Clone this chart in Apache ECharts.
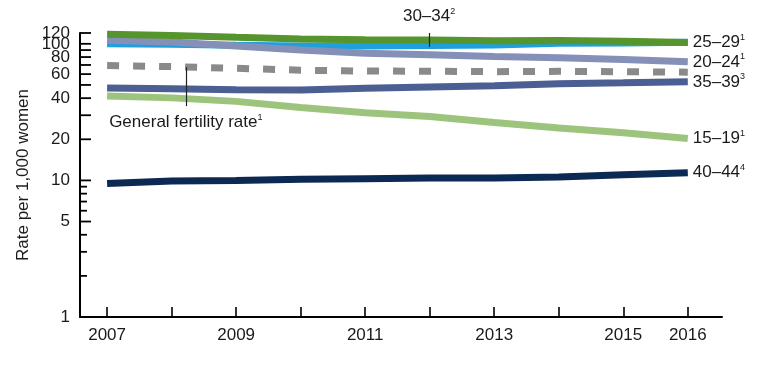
<!DOCTYPE html>
<html>
<head>
<meta charset="utf-8">
<script src="https://cdn.jsdelivr.net/npm/echarts@6/dist/echarts.min.js"></script>
<style>
html,body{margin:0;padding:0;background:#fff;}
#chart{width:769px;height:369px;}
</style>
</head>
<body>
<div id="chart"></div>
<script>
// ---- data ----
const years = [2007, 2008, 2009, 2010, 2011, 2012, 2013, 2014, 2015, 2016];
const xLabelYears = [2007, 2009, 2011, 2013, 2015, 2016];
const rate15_19 = [41.5, 40.2, 37.9, 34.2, 31.3, 29.4, 26.5, 24.2, 22.3, 20.3];
const rate20_24 = [106.3, 103.0, 96.2, 90.0, 85.3, 83.1, 80.7, 79.0, 76.8, 73.8];
const rate25_29 = [117.5, 115.1, 111.5, 108.3, 107.2, 106.5, 105.5, 105.8, 104.3, 102.1];
const rate30_34 = [99.9, 99.3, 97.5, 96.5, 96.5, 97.3, 98.0, 100.8, 101.5, 102.7];
const rate35_39 = [47.5, 46.9, 46.1, 45.9, 47.2, 48.3, 49.3, 51.0, 51.8, 52.7];
const rate40_44 = [9.5, 9.9, 10.0, 10.2, 10.3, 10.4, 10.4, 10.6, 11.0, 11.4];
const gfr = [69.3, 68.1, 66.2, 64.1, 63.2, 63.0, 62.5, 62.9, 62.5, 62.0];
const yLongTicks = [5, 10, 20, 30, 40, 50, 60, 70, 80, 90, 100, 120];
const yShortTicks = [2, 3, 4, 6, 7, 8, 9];
const yTickLabels = [1, 5, 10, 20, 40, 60, 80, 100, 120];

const X_MIN = 2006.58, X_MAX = 2016.53;
const FONT = "'Liberation Sans', Arial, sans-serif";
const TXT = '#1a1a1a';

const zip = arr => years.map((y, i) => [y, arr[i]]);
const rich = { a: { fontSize: 17, color: TXT, fontFamily: FONT, lineHeight: 19 },
               s: { fontSize: 9, color: TXT, fontFamily: FONT, lineHeight: 9, verticalAlign: 'top' } };

function lineSeries(name, data, color, sup, opts) {
  const s = {
    type: 'line', name: name, data: zip(data), symbol: 'none',
    lineStyle: Object.assign({ color: color, width: 7, cap: 'butt' }, (opts && opts.lineStyle) || {}),
    silent: true
  };
  if (sup) {
    s.endLabel = { show: true, distance: 5, formatter: '{a|' + name + '}{s|' + sup + '}', rich: rich };
  }
  return s;
}

const chart = echarts.init(document.getElementById('chart'), null, { renderer: 'canvas' });

const topSeries = lineSeries('25–29', rate25_29, '#56942e', '1');
topSeries.markLine = {
  silent: true, symbol: 'none', animation: false,
  lineStyle: { type: 'solid', color: '#222', width: 1.2 },
  label: { show: true, position: 'end', distance: 7, rich: rich },
  data: [
    [{ coord: [2008.22, 67.5], label: { formatter: '{a|General fertility rate}{s|1}' } }, { coord: [2008.22, 35.0] }],
    [{ coord: [2011.99, 94.8], label: { formatter: '{a|30–34}{s|2}' } }, { coord: [2011.99, 120] }]
  ]
};

const option = {
  animation: false,
  backgroundColor: '#fff',
  textStyle: { fontFamily: FONT },
  grid: { left: 80, right: 47, top: 33, bottom: 52, containLabel: false },
  xAxis: {
    type: 'value', min: X_MIN, max: X_MAX,
    axisLine: { show: true, onZero: false, lineStyle: { color: '#000', width: 2 } },
    axisTick: { show: true, inside: true, length: 10, customValues: years, lineStyle: { color: '#000', width: 1.6 } },
    axisLabel: { show: true, customValues: xLabelYears, formatter: v => String(v), color: TXT, fontSize: 17, fontFamily: FONT, margin: 10 },
    splitLine: { show: false }
  },
  yAxis: {
    type: 'log', logBase: 10, min: 1, max: 120,
    name: 'Rate per 1,000 women', nameLocation: 'middle', nameGap: 48,
    nameTextStyle: { color: TXT, fontSize: 17, fontFamily: FONT },
    axisLine: { show: true, onZero: false, lineStyle: { color: '#000', width: 2 } },
    axisTick: { show: false }, axisLabel: { show: false }, splitLine: { show: false }
  },
  series: [
    {
      type: 'custom', clip: false, silent: true, z: 5,
      data: yLongTicks.map(v => [X_MIN, v]),
      renderItem: (params, api) => {
        const p = api.coord([api.value(0), api.value(1)]);
        return { type: 'line', shape: { x1: p[0], y1: p[1], x2: p[0] + 11, y2: p[1] }, style: { stroke: '#000', lineWidth: 1.8 } };
      }
    },
    {
      type: 'custom', clip: false, silent: true, z: 5,
      data: yShortTicks.map(v => [X_MIN, v]),
      renderItem: (params, api) => {
        const p = api.coord([api.value(0), api.value(1)]);
        return { type: 'line', shape: { x1: p[0], y1: p[1], x2: p[0] + 7, y2: p[1] }, style: { stroke: '#000', lineWidth: 1.8 } };
      }
    },
    {
      type: 'custom', clip: false, silent: true, z: 5,
      data: yTickLabels.map(v => [X_MIN, v]),
      renderItem: (params, api) => {
        const p = api.coord([api.value(0), api.value(1)]);
        return { type: 'text', x: p[0] - 10, y: p[1],
          style: { text: String(api.value(1)), fill: TXT, font: '17px ' + FONT, textAlign: 'right', textVerticalAlign: 'middle' } };
      }
    },
    lineSeries('40–44', rate40_44, '#0b2952', '4'),
    lineSeries('15–19', rate15_19, '#9dc47c', '1'),
    lineSeries('35–39', rate35_39, '#4c5f93', '3'),
    lineSeries('General fertility rate', gfr, '#8a8a8a', null, { lineStyle: { type: [12, 14] } }),
    lineSeries('30–34', rate30_34, '#1fa0dd', null),
    lineSeries('20–24', rate20_24, '#8590b8', '1'),
    topSeries
  ]
};
chart.setOption(option);
</script>
</body>
</html>
